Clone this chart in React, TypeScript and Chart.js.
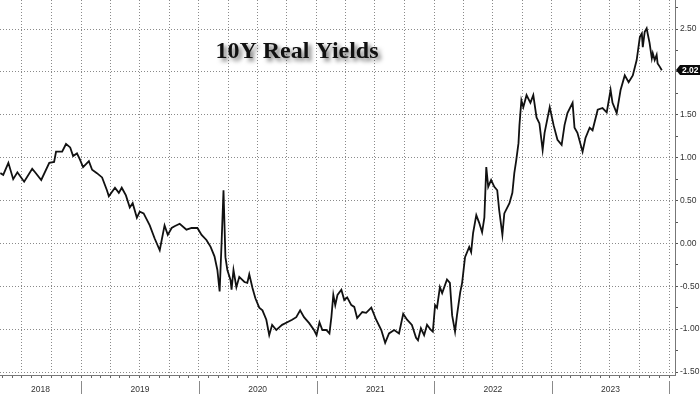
import React, { useEffect, useRef } from "react";
import { Chart, registerables } from "chart.js";

Chart.register(...registerables);

const titleText = "10Y Real Yields";

const dates: string[] = [
  "2018-04-25", "2018-05-04", "2018-05-20", "2018-06-04", "2018-06-17", "2018-07-08", "2018-08-02", "2018-08-11",
  "2018-08-30", "2018-09-24", "2018-10-09", "2018-10-15", "2018-11-03", "2018-11-15", "2018-11-28", "2018-12-07",
  "2018-12-19", "2018-12-28", "2019-01-07", "2019-01-25", "2019-02-04", "2019-02-19", "2019-03-07", "2019-03-22",
  "2019-03-28", "2019-04-16", "2019-04-28", "2019-05-07", "2019-05-20", "2019-06-01", "2019-06-10", "2019-06-23",
  "2019-07-02", "2019-07-14", "2019-08-02", "2019-08-17", "2019-09-02", "2019-09-17", "2019-09-27", "2019-10-09",
  "2019-10-18", "2019-11-03", "2019-11-24", "2019-12-10", "2019-12-28", "2020-01-10", "2020-01-25", "2020-02-07",
  "2020-02-19", "2020-02-28", "2020-03-06", "2020-03-12", "2020-03-18", "2020-03-24", "2020-03-30", "2020-04-09",
  "2020-04-12", "2020-04-18", "2020-04-27", "2020-05-06", "2020-05-22", "2020-05-31", "2020-06-06", "2020-06-16",
  "2020-06-25", "2020-07-07", "2020-07-17", "2020-07-29", "2020-08-07", "2020-08-16", "2020-08-29", "2020-09-07",
  "2020-09-16", "2020-10-02", "2020-10-17", "2020-10-30", "2020-11-11", "2020-11-23", "2020-12-09", "2020-12-24",
  "2021-01-01", "2021-01-10", "2021-01-19", "2021-01-31", "2021-02-10", "2021-02-16", "2021-02-22", "2021-02-28",
  "2021-03-07", "2021-03-19", "2021-03-28", "2021-04-06", "2021-04-19", "2021-04-28", "2021-05-07", "2021-05-23",
  "2021-06-04", "2021-06-20", "2021-07-05", "2021-07-21", "2021-08-02", "2021-08-14", "2021-08-30", "2021-09-14",
  "2021-09-27", "2021-10-09", "2021-10-24", "2021-11-06", "2021-11-12", "2021-11-21", "2021-12-01", "2021-12-10",
  "2021-12-22", "2021-12-28", "2022-01-04", "2022-01-10", "2022-01-19", "2022-01-26", "2022-02-10", "2022-02-19",
  "2022-02-26", "2022-03-07", "2022-03-13", "2022-03-23", "2022-03-29", "2022-04-07", "2022-04-20", "2022-04-26",
  "2022-05-02", "2022-05-12", "2022-05-21", "2022-05-30", "2022-06-06", "2022-06-12", "2022-06-18", "2022-06-27",
  "2022-07-07", "2022-07-16", "2022-07-22", "2022-08-01", "2022-08-07", "2022-08-23", "2022-09-01", "2022-09-07",
  "2022-09-13", "2022-09-20", "2022-09-23", "2022-09-29", "2022-10-05", "2022-10-15", "2022-10-27", "2022-11-05",
  "2022-11-15", "2022-11-24", "2022-12-04", "2022-12-10", "2022-12-26", "2023-01-07", "2023-01-19", "2023-02-01",
  "2023-02-10", "2023-02-19", "2023-03-07", "2023-03-13", "2023-03-22", "2023-04-07", "2023-04-16", "2023-04-29",
  "2023-05-08", "2023-05-24", "2023-06-08", "2023-06-21", "2023-07-03", "2023-07-09", "2023-07-22", "2023-08-03",
  "2023-08-16", "2023-08-28", "2023-09-10", "2023-09-22", "2023-10-02", "2023-10-08", "2023-10-11", "2023-10-17",
  "2023-10-23", "2023-10-26", "2023-11-01", "2023-11-08", "2023-11-11", "2023-11-17", "2023-11-23", "2023-11-26",
  "2023-12-03", "2023-12-09",
];

const values: number[] = [
  0.82, 0.80, 0.94, 0.75, 0.83, 0.72, 0.87, 0.83,
  0.74, 0.94, 0.95, 1.07, 1.07, 1.16, 1.12, 1.02,
  1.05, 0.98, 0.89, 0.96, 0.86, 0.82, 0.77, 0.62,
  0.55, 0.65, 0.59, 0.65, 0.56, 0.42, 0.47, 0.30,
  0.37, 0.35, 0.21, 0.06, -0.08, 0.21, 0.10, 0.18,
  0.20, 0.23, 0.16, 0.18, 0.18, 0.10, 0.04, -0.04,
  -0.15, -0.31, -0.56, 0.00, 0.62, -0.16, -0.31, -0.43,
  -0.54, -0.31, -0.51, -0.39, -0.45, -0.46, -0.36, -0.52,
  -0.64, -0.75, -0.78, -0.89, -1.07, -0.95, -1.01, -0.98,
  -0.95, -0.92, -0.89, -0.86, -0.78, -0.86, -0.93, -1.01,
  -1.07, -0.92, -1.01, -1.01, -1.05, -0.86, -0.60, -0.72,
  -0.60, -0.54, -0.66, -0.63, -0.72, -0.74, -0.87, -0.80,
  -0.81, -0.75, -0.89, -1.01, -1.16, -1.05, -1.01, -1.05,
  -0.82, -0.89, -0.95, -1.10, -1.13, -0.99, -1.07, -0.95,
  -1.01, -1.03, -0.72, -0.75, -0.51, -0.58, -0.42, -0.46,
  -0.84, -1.03, -0.84, -0.57, -0.46, -0.16, -0.04, -0.10,
  0.12, 0.33, 0.24, 0.13, 0.30, 0.89, 0.66, 0.74,
  0.66, 0.62, 0.39, 0.10, 0.35, 0.47, 0.59, 0.82,
  0.97, 1.17, 1.38, 1.67, 1.59, 1.73, 1.64, 1.73,
  1.47, 1.40, 1.09, 1.29, 1.59, 1.38, 1.21, 1.15,
  1.38, 1.52, 1.64, 1.35, 1.29, 1.07, 1.23, 1.35,
  1.32, 1.56, 1.58, 1.53, 1.79, 1.64, 1.52, 1.79,
  1.96, 1.88, 1.96, 2.14, 2.41, 2.45, 2.29, 2.47,
  2.51, 2.45, 2.34, 2.16, 2.22, 2.14, 2.20, 2.10,
  2.06, 2.02,
];

const yTickValues: number[] = [
  -1.5, -1.25, -1.0, -0.75, -0.5, -0.25, 0.0, 0.25, 0.5, 0.75, 1.0, 1.25, 1.5, 1.75, 2.0, 2.25, 2.5, 2.75,
];
const yearLabels: string[] = ["2018", "2019", "2020", "2021", "2022", "2023"];

const X_START = "2018-04-24";
const X_END = "2024-01-19";
const Y_MIN = -1.535;
const Y_MAX = 2.84;

const EPOCH = Date.UTC(2018, 0, 1);
const dayOf = (s: string) => {
  const [y, m, d] = s.split("-").map(Number);
  return (Date.UTC(y, m - 1, d) - EPOCH) / 86400000;
};
const X_MIN = dayOf(X_START);
const X_MAX = dayOf(X_END);

const FONT_FAMILY = '"Liberation Sans Narrow", "Liberation Sans", Arial, sans-serif';
const GRID_COLOR = "#8a8a8a";
const CLEAR = "rgba(0,0,0,0)";

const tickValueOf = (ctx: any): number => {
  if (ctx && ctx.tick && typeof ctx.tick.value === "number") return ctx.tick.value;
  if (ctx && ctx.scale && ctx.scale.ticks && ctx.scale.ticks[ctx.index]) return ctx.scale.ticks[ctx.index].value;
  return NaN;
};

export default function App() {
  const ref = useRef<HTMLCanvasElement>(null);

  useEffect(() => {
    document.body.style.margin = "0";
    const canvas = ref.current;
    if (!canvas) return;

    const monthTicks: { value: number; month: number }[] = [];
    for (let y = 2018; y <= 2024; y++) {
      for (let m = 0; m < 12; m++) {
        const v = (Date.UTC(y, m, 1) - EPOCH) / 86400000;
        if (v >= X_MIN && v <= X_MAX) monthTicks.push({ value: v, month: m });
      }
    }
    const monthOf = new Map<number, number>();
    monthTicks.forEach((t) => monthOf.set(t.value, t.month));

    const labelMap = new Map<number, string>();
    yearLabels.forEach((yl) => {
      const y = Number(yl);
      const s = Math.max(dayOf(`${y}-01-01`), X_MIN);
      const e = dayOf(`${y + 1}-01-01`);
      labelMap.set((s + e) / 2, yl);
    });
    const allXTicks = [...monthTicks.map((t) => t.value), ...Array.from(labelMap.keys())].sort((a, b) => a - b);

    const isMajorY = (v: number) => Number.isFinite(v) && Math.abs(v * 2 - Math.round(v * 2)) < 1e-6;

    const titlePlugin = {
      id: "titleText",
      afterDatasetsDraw(chart: any) {
        const ctx = chart.ctx;
        ctx.save();
        ctx.font = 'bold 24px "Liberation Serif", "Times New Roman", serif';
        ctx.textAlign = "center";
        ctx.textBaseline = "alphabetic";
        ctx.shadowColor = "rgba(0,0,0,0.55)";
        ctx.shadowOffsetX = 3;
        ctx.shadowOffsetY = 3;
        ctx.shadowBlur = 4;
        ctx.fillStyle = "#111";
        ctx.fillText(titleText, 297, 58);
        ctx.restore();
      },
    };

    const yearSepPlugin = {
      id: "yearSep",
      afterDraw(chart: any) {
        const xs = chart.scales.x;
        const ctx = chart.ctx;
        ctx.save();
        ctx.strokeStyle = "#8a8a8a";
        ctx.lineWidth = 1;
        for (let y = 2019; y <= 2024; y++) {
          const px = Math.round(xs.getPixelForValue(dayOf(`${y}-01-01`))) + 0.5;
          ctx.beginPath();
          ctx.moveTo(px, xs.top + 6);
          ctx.lineTo(px, xs.bottom);
          ctx.stroke();
        }
        ctx.restore();
      },
    };

    const lastValuePlugin = {
      id: "lastValue",
      afterDraw(chart: any) {
        const ys = chart.scales.y;
        const last = values[values.length - 1];
        const py = Math.round(ys.getPixelForValue(last));
        const x0 = ys.left + 1;
        const ctx = chart.ctx;
        ctx.save();
        ctx.fillStyle = "#0a0a0a";
        ctx.beginPath();
        ctx.moveTo(x0, py);
        ctx.lineTo(x0 + 4, py - 5);
        ctx.lineTo(chart.width, py - 5);
        ctx.lineTo(chart.width, py + 5);
        ctx.lineTo(x0 + 4, py + 5);
        ctx.closePath();
        ctx.fill();
        ctx.fillStyle = "#ffffff";
        ctx.font = `bold 8.5px ${FONT_FAMILY}`;
        ctx.textAlign = "left";
        ctx.textBaseline = "middle";
        ctx.fillText(last.toFixed(2), x0 + 6, py + 0.5);
        ctx.restore();
      },
    };

    const chart = new Chart(canvas, {
      type: "line",
      data: {
        datasets: [
          {
            data: dates.map((d, i) => ({ x: dayOf(d), y: values[i] })),
            borderColor: "#111111",
            borderWidth: 1.8,
            pointRadius: 0,
            tension: 0,
            fill: false,
          },
        ],
      },
      options: {
        responsive: false,
        animation: false,
        devicePixelRatio: 1,
        layout: { padding: 0 },
        plugins: {
          legend: { display: false },
          tooltip: { enabled: false },
          title: { display: false },
        },
        scales: {
          x: {
            type: "linear",
            min: X_MIN,
            max: X_MAX,
            afterBuildTicks: (scale: any) => {
              scale.ticks = allXTicks.map((v) => ({ value: v }));
            },
            afterFit: (scale: any) => {
              scale.height = 19;
              scale.paddingLeft = 0;
              scale.paddingRight = 0;
            },
            grid: {
              display: true,
              drawOnChartArea: true,
              drawTicks: true,
              tickLength: 3,
              lineWidth: 1,
              color: (ctx: any) => {
                const m = monthOf.get(tickValueOf(ctx));
                return m !== undefined && m % 3 === 0 ? GRID_COLOR : CLEAR;
              },
              tickColor: (ctx: any) => (monthOf.has(tickValueOf(ctx)) ? "#666666" : CLEAR),
            },
            border: { display: true, color: "#777777", width: 1, dash: [1, 2] },
            ticks: {
              autoSkip: false,
              maxRotation: 0,
              minRotation: 0,
              padding: 7,
              color: "#333333",
              font: { family: FONT_FAMILY, size: 8.5 },
              callback: (v: any) => labelMap.get(Number(v)) ?? "",
            },
          },
          y: {
            type: "linear",
            position: "right",
            min: Y_MIN,
            max: Y_MAX,
            afterBuildTicks: (scale: any) => {
              scale.ticks = yTickValues.map((v) => ({ value: v }));
            },
            afterFit: (scale: any) => {
              scale.width = 25;
              scale.paddingTop = 0;
              scale.paddingBottom = 0;
            },
            grid: {
              display: true,
              drawOnChartArea: true,
              drawTicks: true,
              tickLength: 3,
              lineWidth: 1,
              color: (ctx: any) => (isMajorY(tickValueOf(ctx)) ? GRID_COLOR : CLEAR),
              tickColor: "#555555",
            },
            border: { display: true, color: "#777777", width: 1, dash: [1, 2] },
            ticks: {
              padding: 2,
              color: "#333333",
              font: { family: FONT_FAMILY, size: 8.5 },
              callback: (v: any) => (isMajorY(Number(v)) ? Number(v).toFixed(2) : ""),
            },
          },
        },
      } as any,
      plugins: [titlePlugin, yearSepPlugin, lastValuePlugin],
    });

    return () => chart.destroy();
  }, []);

  return (
    <div style={{ width: 700, height: 394 }}>
      <canvas ref={ref} width={700} height={394} style={{ display: "block" }} />
    </div>
  );
}
